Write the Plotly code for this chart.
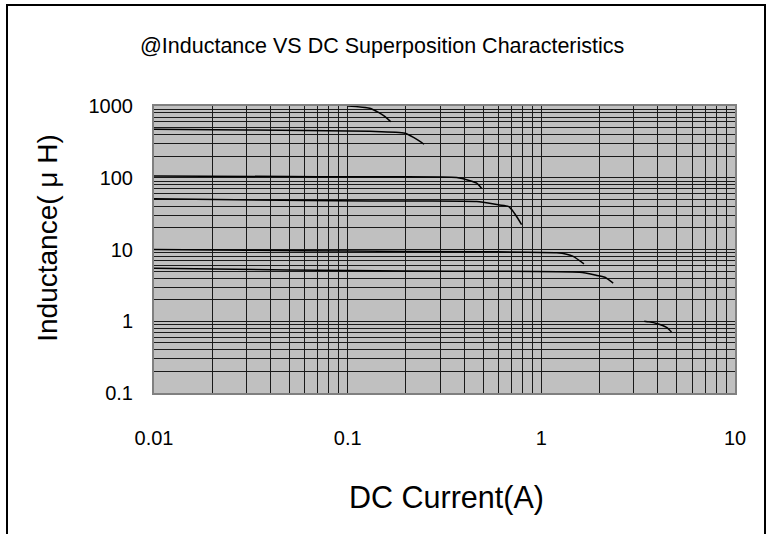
import plotly.graph_objects as go

# ---- data (DC current in A, inductance in uH) ----
c1000_x = [0.1, 0.13, 0.145, 0.156, 0.167]
c1000_y = [1000, 930, 807, 710, 604]

c470_x = [0.01, 0.03, 0.13, 0.198, 0.222, 0.248]
c470_y = [473, 464, 444, 417, 356, 293]

c100_x = [0.01, 0.05, 0.1, 0.366, 0.428, 0.464, 0.492]
c100_y = [106, 104, 103, 101, 91, 84, 71]

c50_x = [0.01, 0.088, 0.2, 0.464, 0.6, 0.675, 0.702, 0.745, 0.791]
c50_y = [50.9, 47.7, 47.5, 46.7, 41.9, 39.9, 36.0, 28.8, 22.2]

c10_x = [0.01, 0.03, 0.1, 0.5, 1.2, 1.35, 1.46, 1.66]
c10_y = [10.0, 9.8, 9.5, 9.3, 9.0, 8.6, 8.0, 6.3]

c5_x = [0.01, 0.05, 0.2, 1.58, 1.9, 2.13, 2.35]
c5_y = [5.5, 5.2, 5.0, 4.8, 4.4, 4.1, 3.4]

c1_x = [3.4, 3.6, 3.94, 4.43, 4.7]
c1_y = [1.0, 0.98, 0.93, 0.82, 0.71]

x_decades = [0.01, 0.1, 1, 10]
x_labels = ["0.01", "0.1", "1", "10"]
y_decades = [0.1, 1, 10, 100, 1000]
y_labels = ["0.1", "1", "10", "100", "1000"]

title_text = "@Inductance VS DC Superposition Characteristics"
x_title = "DC Current(A)"
y_title = "Inductance( \u03bc H)"

FONT = "Liberation Sans, Arial, sans-serif"


def grid_vals(decades, labels):
    vals, texts = [], []
    for i, d in enumerate(decades):
        vals.append(d)
        texts.append(labels[i])
        if i < len(decades) - 1:
            for m in range(2, 10):
                vals.append(d * m)
                texts.append("")
    return vals, texts


xv, xt = grid_vals(x_decades, x_labels)
yv, yt = grid_vals(y_decades, y_labels)

fig = go.Figure()
for xs, ys in [(c1000_x, c1000_y), (c470_x, c470_y), (c100_x, c100_y),
               (c50_x, c50_y), (c10_x, c10_y), (c5_x, c5_y), (c1_x, c1_y)]:
    fig.add_trace(go.Scatter(x=xs, y=ys, mode="lines",
                             line=dict(color="black", width=1.5, shape="spline", smoothing=0.6),
                             showlegend=False, hoverinfo="skip"))

axis_common = dict(
    type="log", showgrid=True, gridcolor="#1a1a1a", gridwidth=1,
    showline=True, linecolor="#808080", linewidth=2, mirror=True,
    ticks="", zeroline=False,
    tickfont=dict(family=FONT, size=20, color="black"),
)

fig.update_xaxes(range=[-2, 1], tickmode="array", tickvals=xv, ticktext=xt,
                 ticklabelstandoff=26, **axis_common)
fig.update_yaxes(range=[-1, 3], tickmode="array", tickvals=yv, ticktext=yt,
                 ticklabelstandoff=15, **axis_common)

fig.update_layout(
    width=770, height=534,
    margin=dict(l=154, r=35, t=106, b=141, pad=0),
    paper_bgcolor="white", plot_bgcolor="#C0C0C0",
    font=dict(family=FONT, color="black"),
    showlegend=False,
    annotations=[
        dict(text=title_text, xref="paper", yref="paper", x=0.3924, y=1.2104,
             xanchor="center", yanchor="middle", showarrow=False,
             font=dict(family=FONT, size=21.5, color="black")),
        dict(text=x_title, xref="paper", yref="paper", x=0.504, y=-0.3635,
             xanchor="center", yanchor="middle", showarrow=False,
             font=dict(family=FONT, size=30.5, color="black")),
        dict(text=y_title, xref="paper", yref="paper", x=-0.1824, y=0.541,
             xanchor="center", yanchor="middle", showarrow=False, textangle=-90,
             font=dict(family=FONT, size=28, color="black")),
    ],
    shapes=[
        dict(type="rect", xref="paper", yref="paper",
             x0=(7 - 154) / 581, x1=(765 - 154) / 581,
             y0=(393 - 560) / 287, y1=(393 - 5) / 287,
             line=dict(color="black", width=2), fillcolor="rgba(0,0,0,0)", layer="below"),
    ],
)

fig.write_html("out.html", config={"displayModeBar": False},
               post_script="document.body.style.margin='0';")
